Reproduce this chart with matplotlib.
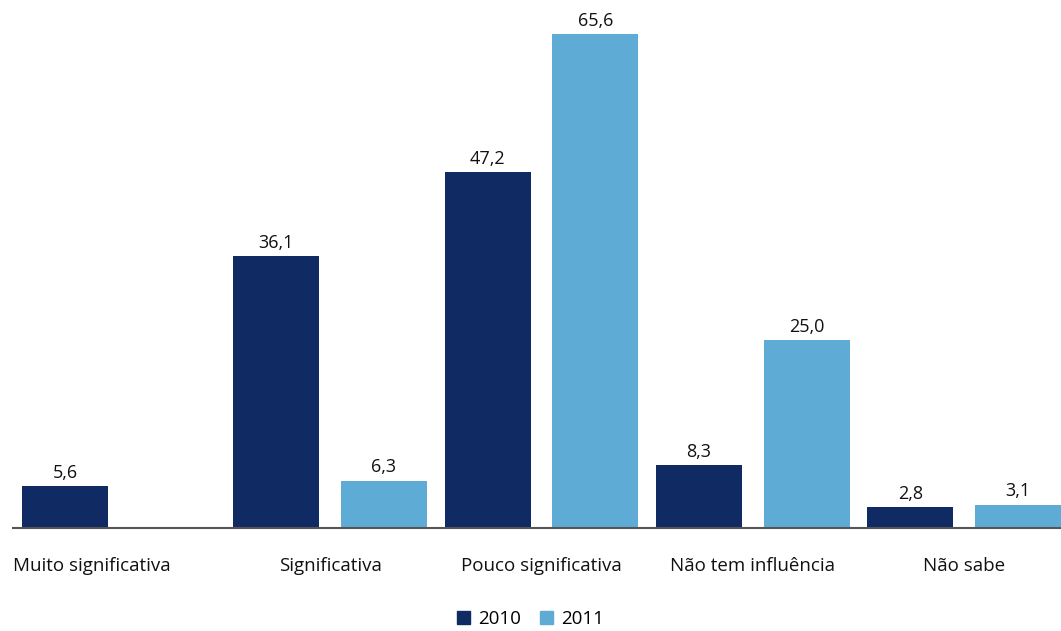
import matplotlib
matplotlib.use("Agg")
import matplotlib.pyplot as plt
import matplotlib.transforms as mtransforms
from matplotlib.patches import Patch
import numpy as np

categories = ["Muito significativa", "Significativa", "Pouco significativa",
              "Não tem influência", "Não sabe"]
values_2010 = [5.6, 36.1, 47.2, 8.3, 2.8]
values_2011 = [None, 6.3, 65.6, 25.0, 3.1]
series_names = ["2010", "2011"]

navy = "#102a64"
light = "#5eabd6"
text_col = "#111111"

plt.rcParams["font.family"] = ["Open Sans", "DejaVu Sans"]

fig = plt.figure(figsize=(10.61, 6.31), dpi=100)
ax = fig.add_axes([13 / 1061, 103 / 631, 1048 / 1061, 528 / 631])

x = np.arange(len(categories))
width = 0.407
shift = 0.255

for i, v in enumerate(values_2010):
    ax.bar(x[i] - shift, v, width, color=navy)
    ax.annotate(f"{v:.1f}".replace(".", ","), (x[i] - shift, v),
                xytext=(0, 3), textcoords="offset points",
                ha="center", va="bottom", fontsize=13, color=text_col)
for i, v in enumerate(values_2011):
    if v is None:
        continue
    ax.bar(x[i] + shift, v, width, color=light)
    ax.annotate(f"{v:.1f}".replace(".", ","), (x[i] + shift, v),
                xytext=(0, 3), textcoords="offset points",
                ha="center", va="bottom", fontsize=13, color=text_col)

ax.set_xlim(-0.501, 4.459)
ax.set_ylim(0, 70.1)

ax.set_xticks(x)
ax.set_xticklabels(categories, fontsize=13.5, color=text_col)
ax.tick_params(axis="x", length=0, pad=21)
ax.set_yticks([])
for side in ["top", "right", "left"]:
    ax.spines[side].set_visible(False)
ax.spines["bottom"].set_color("#555555")
ax.spines["bottom"].set_linewidth(1.5)

# first label sits further left in the original
lbl = ax.get_xticklabels()[0]
lbl.set_transform(lbl.get_transform() + mtransforms.ScaledTranslation(-27 / 100, 0, fig.dpi_scale_trans))

handles = [Patch(color=navy), Patch(color=light)]
fig.legend(handles, series_names, loc="center", bbox_to_anchor=(0.5, 12 / 631),
           ncol=2, frameon=False, fontsize=13.5, handlelength=0.7, handleheight=0.7,
           handletextpad=0.45, columnspacing=1.0)

fig.savefig("out.png", dpi=100)
